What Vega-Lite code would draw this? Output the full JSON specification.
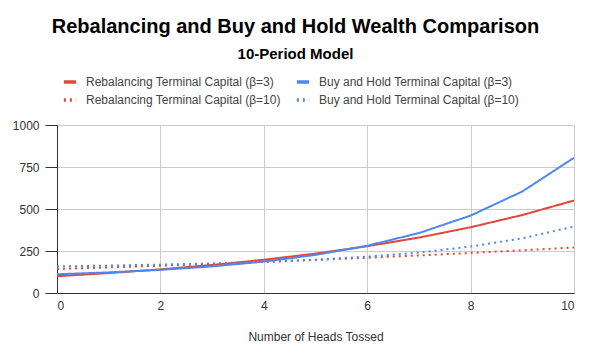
{
  "$schema": "https://vega.github.io/schema/vega-lite/v6.json",
  "width": 517,
  "height": 168,
  "autosize": "none",
  "padding": {"left": 57, "top": 125, "right": 16, "bottom": 65},
  "background": "white",
  "title": {
    "text": "Rebalancing and Buy and Hold Wealth Comparison",
    "subtitle": "10-Period Model",
    "font": "Liberation Sans",
    "fontSize": 20,
    "fontWeight": "bold",
    "color": "#000000",
    "subtitleFont": "Liberation Sans",
    "subtitleFontSize": 15,
    "subtitleFontWeight": "bold",
    "subtitleColor": "#000000",
    "subtitlePadding": 10,
    "anchor": "middle",
    "dx": -20,
    "offset": 12
  },
  "data": {
    "values": [
      {"x": 0, "value": 100, "series": "Rebalancing Terminal Capital (β=3)"},
      {"x": 1, "value": 118.6, "series": "Rebalancing Terminal Capital (β=3)"},
      {"x": 2, "value": 140.7, "series": "Rebalancing Terminal Capital (β=3)"},
      {"x": 3, "value": 166.8, "series": "Rebalancing Terminal Capital (β=3)"},
      {"x": 4, "value": 197.8, "series": "Rebalancing Terminal Capital (β=3)"},
      {"x": 5, "value": 234.6, "series": "Rebalancing Terminal Capital (β=3)"},
      {"x": 6, "value": 278.3, "series": "Rebalancing Terminal Capital (β=3)"},
      {"x": 7, "value": 330, "series": "Rebalancing Terminal Capital (β=3)"},
      {"x": 8, "value": 391.4, "series": "Rebalancing Terminal Capital (β=3)"},
      {"x": 9, "value": 464.2, "series": "Rebalancing Terminal Capital (β=3)"},
      {"x": 10, "value": 550.5, "series": "Rebalancing Terminal Capital (β=3)"},
      {"x": 0, "value": 111.7, "series": "Buy and Hold Terminal Capital (β=3)"},
      {"x": 1, "value": 122.6, "series": "Buy and Hold Terminal Capital (β=3)"},
      {"x": 2, "value": 137.7, "series": "Buy and Hold Terminal Capital (β=3)"},
      {"x": 3, "value": 158.4, "series": "Buy and Hold Terminal Capital (β=3)"},
      {"x": 4, "value": 187.1, "series": "Buy and Hold Terminal Capital (β=3)"},
      {"x": 5, "value": 226.7, "series": "Buy and Hold Terminal Capital (β=3)"},
      {"x": 6, "value": 281.3, "series": "Buy and Hold Terminal Capital (β=3)"},
      {"x": 7, "value": 356.7, "series": "Buy and Hold Terminal Capital (β=3)"},
      {"x": 8, "value": 460.8, "series": "Buy and Hold Terminal Capital (β=3)"},
      {"x": 9, "value": 604.4, "series": "Buy and Hold Terminal Capital (β=3)"},
      {"x": 10, "value": 805, "series": "Buy and Hold Terminal Capital (β=3)"},
      {"x": 0, "value": 143, "series": "Rebalancing Terminal Capital (β=10)"},
      {"x": 1, "value": 152.4, "series": "Rebalancing Terminal Capital (β=10)"},
      {"x": 2, "value": 162.5, "series": "Rebalancing Terminal Capital (β=10)"},
      {"x": 3, "value": 173.2, "series": "Rebalancing Terminal Capital (β=10)"},
      {"x": 4, "value": 184.6, "series": "Rebalancing Terminal Capital (β=10)"},
      {"x": 5, "value": 196.8, "series": "Rebalancing Terminal Capital (β=10)"},
      {"x": 6, "value": 209.8, "series": "Rebalancing Terminal Capital (β=10)"},
      {"x": 7, "value": 223.6, "series": "Rebalancing Terminal Capital (β=10)"},
      {"x": 8, "value": 238.4, "series": "Rebalancing Terminal Capital (β=10)"},
      {"x": 9, "value": 254.1, "series": "Rebalancing Terminal Capital (β=10)"},
      {"x": 10, "value": 270.9, "series": "Rebalancing Terminal Capital (β=10)"},
      {"x": 0, "value": 158, "series": "Buy and Hold Terminal Capital (β=10)"},
      {"x": 1, "value": 163, "series": "Buy and Hold Terminal Capital (β=10)"},
      {"x": 2, "value": 169, "series": "Buy and Hold Terminal Capital (β=10)"},
      {"x": 3, "value": 176, "series": "Buy and Hold Terminal Capital (β=10)"},
      {"x": 4, "value": 185.9, "series": "Buy and Hold Terminal Capital (β=10)"},
      {"x": 5, "value": 198.4, "series": "Buy and Hold Terminal Capital (β=10)"},
      {"x": 6, "value": 216.2, "series": "Buy and Hold Terminal Capital (β=10)"},
      {"x": 7, "value": 241.1, "series": "Buy and Hold Terminal Capital (β=10)"},
      {"x": 8, "value": 276.3, "series": "Buy and Hold Terminal Capital (β=10)"},
      {"x": 9, "value": 325.7, "series": "Buy and Hold Terminal Capital (β=10)"},
      {"x": 10, "value": 395.4, "series": "Buy and Hold Terminal Capital (β=10)"}
    ]
  },
  "mark": {"type": "line", "strokeWidth": 2, "strokeCap": "butt"},
  "encoding": {
    "x": {
      "field": "x",
      "type": "quantitative",
      "scale": {"domain": [0, 10], "nice": false},
      "axis": {
        "title": "Number of Heads Tossed",
        "values": [0, 2, 4, 6, 8, 10],
        "ticks": false,
        "labelPadding": 7,
        "titlePadding": 20,
        "titleFontWeight": "normal"
      }
    },
    "y": {
      "field": "value",
      "type": "quantitative",
      "scale": {"domain": [0, 1000], "nice": false},
      "axis": {
        "title": null,
        "values": [0, 250, 500, 750, 1000],
        "format": "d",
        "tickSize": 12,
        "labelPadding": 6
      }
    },
    "color": {
      "field": "series",
      "type": "nominal",
      "scale": {
        "domain": [
          "Rebalancing Terminal Capital (β=3)",
          "Buy and Hold Terminal Capital (β=3)",
          "Rebalancing Terminal Capital (β=10)",
          "Buy and Hold Terminal Capital (β=10)"
        ],
        "range": ["#e0483a", "#4f87ee", "#e0483a", "#4f87ee"]
      },
      "legend": {
        "title": null,
        "orient": "none",
        "legendX": 5,
        "legendY": -51,
        "direction": "horizontal",
        "columns": 2,
        "symbolType": "stroke",
        "symbolStrokeWidth": 3.5,
        "symbolSize": 150,
        "labelFontSize": 12,
        "labelFont": "Liberation Sans",
        "labelColor": "#444444",
        "labelLimit": 0,
        "labelOffset": 8,
        "columnPadding": 8,
        "rowPadding": 3
      }
    },
    "strokeDash": {
      "field": "series",
      "type": "nominal",
      "scale": {
        "domain": [
          "Rebalancing Terminal Capital (β=3)",
          "Buy and Hold Terminal Capital (β=3)",
          "Rebalancing Terminal Capital (β=10)",
          "Buy and Hold Terminal Capital (β=10)"
        ],
        "range": [[1, 0], [1, 0], [2, 4], [2, 4]]
      },
      "legend": {
        "title": null,
        "orient": "none",
        "legendX": 5,
        "legendY": -51,
        "direction": "horizontal",
        "columns": 2,
        "symbolType": "stroke",
        "symbolStrokeWidth": 3.5,
        "symbolSize": 150,
        "labelFontSize": 12,
        "labelFont": "Liberation Sans",
        "labelColor": "#444444",
        "labelLimit": 0,
        "labelOffset": 8,
        "columnPadding": 8,
        "rowPadding": 3
      }
    }
  },
  "config": {
    "view": {"stroke": null},
    "axis": {
      "labelFont": "Liberation Sans",
      "labelFontSize": 12,
      "labelColor": "#333333",
      "titleFont": "Liberation Sans",
      "titleFontSize": 12,
      "titleColor": "#333333",
      "gridColor": "#cccccc",
      "gridWidth": 1,
      "domainColor": "#333333",
      "tickColor": "#333333"
    }
  }
}
